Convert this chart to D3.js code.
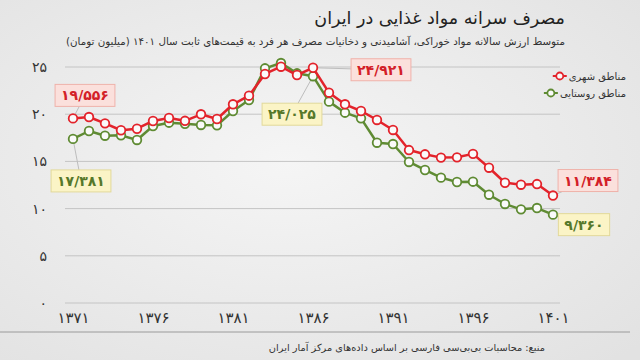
<!DOCTYPE html>
<html><head><meta charset="utf-8">
<script src="https://cdn.jsdelivr.net/npm/d3@7"></script>
<style>
html,body{margin:0;padding:0;background:#ececec;}
svg{display:block;font-family:"DejaVu Sans",sans-serif;}
</style></head>
<body><svg id="c" width="640" height="360"></svg>
<script>
const title = "مصرف سرانه مواد غذایی در ایران";
const subtitle = "متوسط ارزش سالانه مواد خوراکی، آشامیدنی و دخانیات مصرف هر فرد به قیمت‌های ثابت سال ۱۴۰۱ (میلیون تومان)";
const source = "منبع: محاسبات بی‌بی‌سی فارسی بر اساس داده‌های مرکز آمار ایران";
const seriesNames = ["مناطق شهری", "مناطق روستایی"];
const years = d3.range(1371, 1402);
const urban = [19.556,19.70,19.03,18.30,18.46,19.28,19.60,19.30,19.99,19.49,21.05,21.96,24.26,25.03,24.15,24.921,22.28,21.05,20.34,19.39,18.33,16.20,15.75,15.40,15.43,15.80,14.33,12.74,12.53,12.60,11.384];
const rural = [17.381,18.22,17.72,17.76,17.27,18.75,19.10,18.99,18.86,18.82,20.34,21.50,24.86,25.42,24.33,24.025,21.33,20.16,19.56,16.98,16.84,14.94,14.09,13.28,12.82,12.85,11.47,10.49,9.92,10.06,9.360];
const yTicks = [0,5,10,15,20,25];
const xTicks = [1371,1376,1381,1386,1391,1396,1401];
const annYears = [1371,1371,1386,1386,1401,1401];
const annSeries = [0,1,1,0,0,1];

const colors = ["#e3232b", "#5f8b33"];
const boxFill = ["#fbe0dc", "#fbf4c6"];
const boxStroke = ["#efb2aa", "#e2d99a"];
const textCol = ["#d32028", "#56782a"];
const annOffsets = [[12,-23],[8,42],[-21,38],[68,2],[35,-15],[31,10]];

const fa = s => String(s).replace(/[0-9]/g, d => "۰۱۲۳۴۵۶۷۸۹"[+d]).replace(".", "/");

const svg = d3.select("#c");
const defs = svg.append("defs");
const rg = defs.append("radialGradient").attr("id","bg").attr("cx","45%").attr("cy","45%").attr("r","75%");
rg.append("stop").attr("offset","0%").attr("stop-color","#f5f5f5");
rg.append("stop").attr("offset","100%").attr("stop-color","#e2e2e2");
svg.append("rect").attr("width",640).attr("height",360).attr("fill","url(#bg)");

const x = d3.scaleLinear().domain([1371,1401]).range([73,553]);
const y = d3.scaleLinear().domain([0,25]).range([303,67]);

// title
svg.append("text").attr("x",565).attr("y",24).attr("direction","rtl").attr("text-anchor","start")
  .attr("font-size",17.5).attr("fill","#222").text(title);
svg.append("text").attr("x",565).attr("y",45).attr("direction","rtl").attr("text-anchor","start")
  .attr("font-size",10.3).attr("fill","#333").text(subtitle);

// grid
svg.append("g").selectAll("line").data(yTicks).join("line")
  .attr("x1",65).attr("x2",560).attr("y1",d=>y(d)).attr("y2",d=>y(d))
  .attr("stroke","#c4c4c4").attr("stroke-width",1);

// y axis labels
const yAxis = d3.axisLeft(y).tickValues(yTicks).tickFormat(fa).tickSize(0).tickPadding(0);
const gy = svg.append("g").attr("transform","translate(47,0)").call(yAxis);
gy.select(".domain").remove();
gy.selectAll("text").attr("font-size",14).attr("fill","#333").attr("font-family","DejaVu Sans");

// x axis labels
const xAxis = d3.axisBottom(x).tickValues(xTicks).tickFormat(fa).tickSize(0).tickPadding(0);
const gx = svg.append("g").attr("transform","translate(0,312)").call(xAxis);
gx.select(".domain").remove();
gx.selectAll("text").attr("font-size",15).attr("fill","#333").attr("font-family","DejaVu Sans");

// bottom rule and source
svg.append("line").attr("x1",0).attr("x2",630).attr("y1",332).attr("y2",332).attr("stroke","#9a9a9a").attr("stroke-width",1);
svg.append("text").attr("x",545).attr("y",351).attr("direction","rtl").attr("text-anchor","start")
  .attr("font-size",9.8).attr("fill","#333").text(source);

const seriesData = [urban, rural];

// annotation connectors (under lines)
const annG = svg.append("g");
annYears.forEach((yr,i)=>{
  const s = annSeries[i];
  const v = seriesData[s][years.indexOf(yr)];
  const px = x(yr), py = y(v);
  const cx = px + annOffsets[i][0], cy = py + annOffsets[i][1];
  annG.append("line").attr("x1",px).attr("y1",py).attr("x2",cx).attr("y2",cy)
    .attr("stroke","#bdbdbd").attr("stroke-width",1);
});

// lines (draw rural first, then urban)
const line = d3.line().x((d,i)=>x(years[i])).y(d=>y(d));
[1,0].forEach(s=>{
  svg.append("path").datum(seriesData[s]).attr("d",line).attr("fill","none")
    .attr("stroke",colors[s]).attr("stroke-width",2.5).attr("stroke-linejoin","round");
  svg.append("g").selectAll("circle").data(seriesData[s]).join("circle")
    .attr("cx",(d,i)=>x(years[i])).attr("cy",d=>y(d)).attr("r",4.3)
    .attr("fill","#fafafa").attr("stroke",colors[s]).attr("stroke-width",1.8);
});

// annotation boxes
annYears.forEach((yr,i)=>{
  const s = annSeries[i];
  const v = seriesData[s][years.indexOf(yr)];
  const cx = x(yr) + annOffsets[i][0], cy = y(v) + annOffsets[i][1];
  const g = svg.append("g");
  const t = g.append("text").attr("x",cx).attr("y",cy+5).attr("text-anchor","middle")
    .attr("font-size",14).attr("font-weight","bold").attr("fill",textCol[s]).text(fa(v.toFixed(3)));
  const w = t.node().getComputedTextLength();
  g.insert("rect","text").attr("x",cx-w/2-6).attr("y",cy-11).attr("width",w+12).attr("height",22)
    .attr("fill",boxFill[s]).attr("stroke",boxStroke[s]).attr("stroke-width",1);
});

// legend
seriesNames.forEach((n,i)=>{
  const ly = 76 + i*17;
  const t = svg.append("text").attr("x",626).attr("y",ly+4).attr("direction","rtl").attr("text-anchor","start")
    .attr("font-size",10).attr("fill","#333").text(n);
  const w = t.node().getComputedTextLength();
  const mx = 626 - w - 9;
  svg.append("line").attr("x1",mx-7).attr("x2",mx+7).attr("y1",ly).attr("y2",ly).attr("stroke",colors[i]).attr("stroke-width",2);
  svg.append("circle").attr("cx",mx).attr("cy",ly).attr("r",3.5).attr("fill","#fafafa").attr("stroke",colors[i]).attr("stroke-width",1.8);
});
</script></body></html>
